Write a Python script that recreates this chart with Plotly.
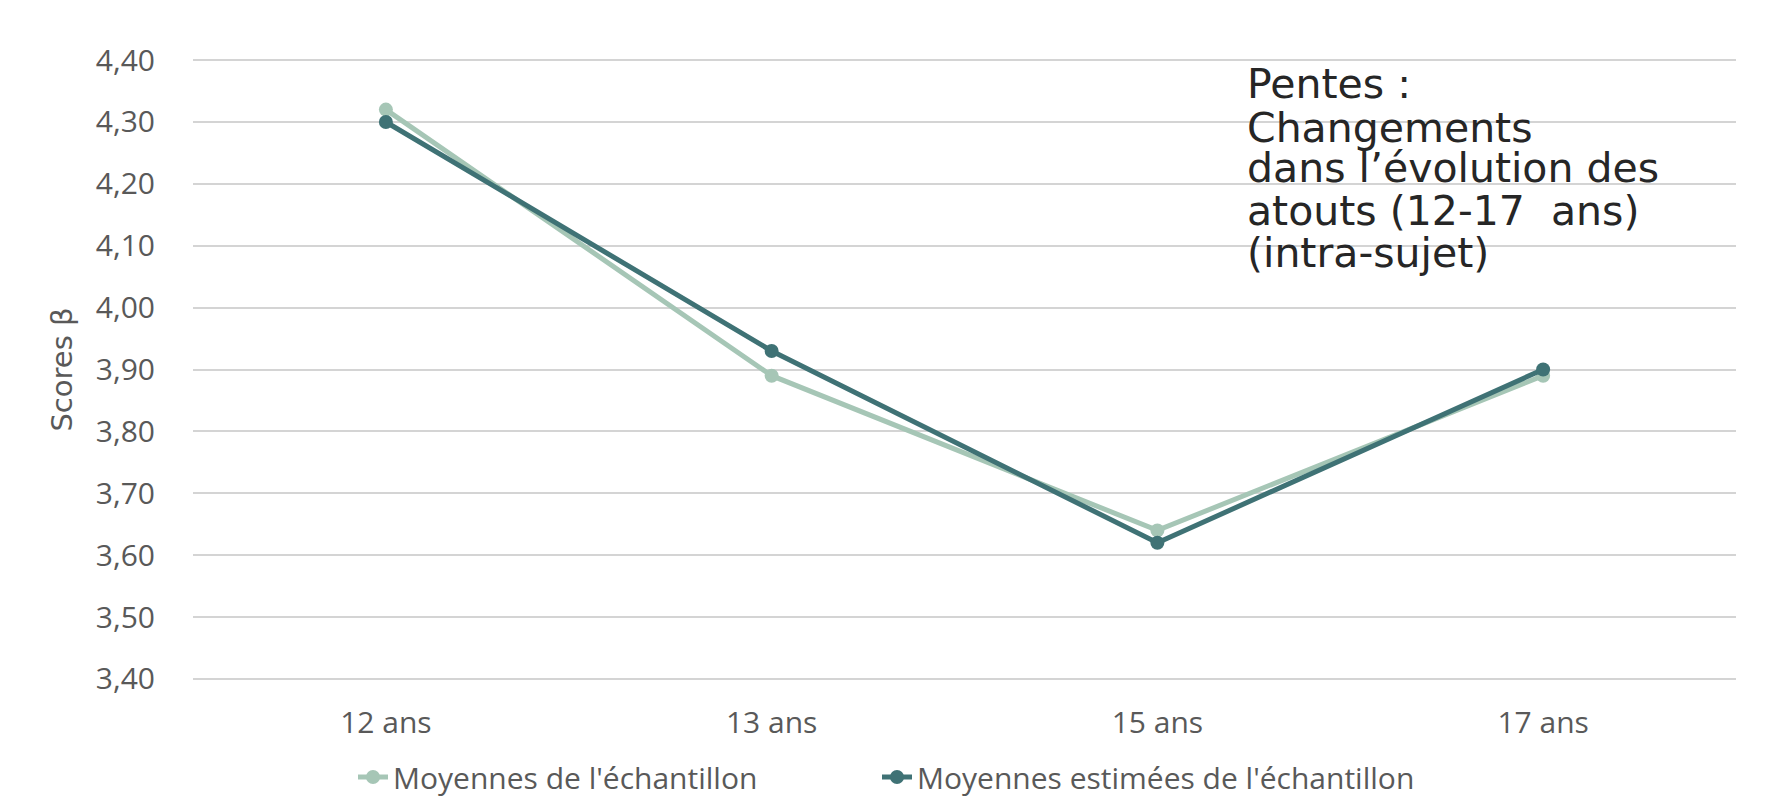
import plotly.graph_objects as go

categories = ["12 ans", "13 ans", "15 ans", "17 ans"]
sample_means = [4.32, 3.89, 3.64, 3.89]
estimated_means = [4.30, 3.93, 3.62, 3.90]
series_names = ["Moyennes de l'échantillon", "Moyennes estimées de l'échantillon"]
note_lines = ["Pentes :", "Changements", "dans l’évolution des", "atouts (12-17\u00a0 ans)", "(intra-sujet)"]

OFF = 8  # default page body margin
W, H = 1760, 793
# plot area in window pixels: x 193..1736, y ~57..682 (range padded so edge gridlines show)
ML = 193 - OFF
MR = W - (1736 - OFF)
MT = 57 - OFF
MB = H - (682 - OFF)
plot_w = W - ML - MR
plot_h = H - MT - MB


def px_x(px):
    return (px - OFF - ML) / plot_w


def px_y(py):
    return (H - MB - (py - OFF)) / plot_h


LIGHT = "#a6c6b6"
DARK = "#3f7275"

fig = go.Figure()
fig.add_trace(go.Scatter(x=categories, y=sample_means, name=series_names[0], mode="lines+markers",
                         line=dict(color=LIGHT, width=5), marker=dict(color=LIGHT, size=14),
                         legendwidth=479))
fig.add_trace(go.Scatter(x=categories, y=estimated_means, name=series_names[1], mode="lines+markers",
                         line=dict(color=DARK, width=5), marker=dict(color=DARK, size=14),
                         legendwidth=540))

baselines = [98, 142, 182, 225, 267]
NOTE_SIZE = 41
for txt, b in zip(note_lines, baselines):
    fig.add_annotation(text=txt, xref="paper", yref="paper",
                       x=px_x(1245), y=px_y(b - 0.346 * NOTE_SIZE),
                       xanchor="left", yanchor="middle", showarrow=False,
                       font=dict(family="DejaVu Sans", size=NOTE_SIZE, color="#262626"))

fig.update_layout(
    width=W, height=H,
    margin=dict(l=ML, r=MR, t=MT, b=MB, autoexpand=False),
    plot_bgcolor="white", paper_bgcolor="white",
    separators=", ",
    font=dict(family="Open Sans", color="#595959"),
    showlegend=True,
    legend=dict(orientation="h", xanchor="left", x=px_x(353), yanchor="middle", y=px_y(777),
                font=dict(family="Open Sans", size=30, color="#595959"),
                entrywidthmode="pixels"),
    xaxis=dict(type="category", range=[-0.5, 3.5], showgrid=False, zeroline=False, showline=False,
               automargin=False, tickfont=dict(size=30, color="#595959"), ticklabelstandoff=20),
    yaxis=dict(range=[3.395, 4.405], dtick=0.1, tick0=3.4, tickformat=".2f", showgrid=True,
               gridcolor="#d4d4d4", gridwidth=2, zeroline=False, showline=False, automargin=False,
               tickfont=dict(size=30, color="#595959"), ticklabelstandoff=37,
               title=dict(text="Scores β", font=dict(family="DejaVu Sans", size=29, color="#595959"),
                          standoff=14)),
)

fig.write_html("out.html")
